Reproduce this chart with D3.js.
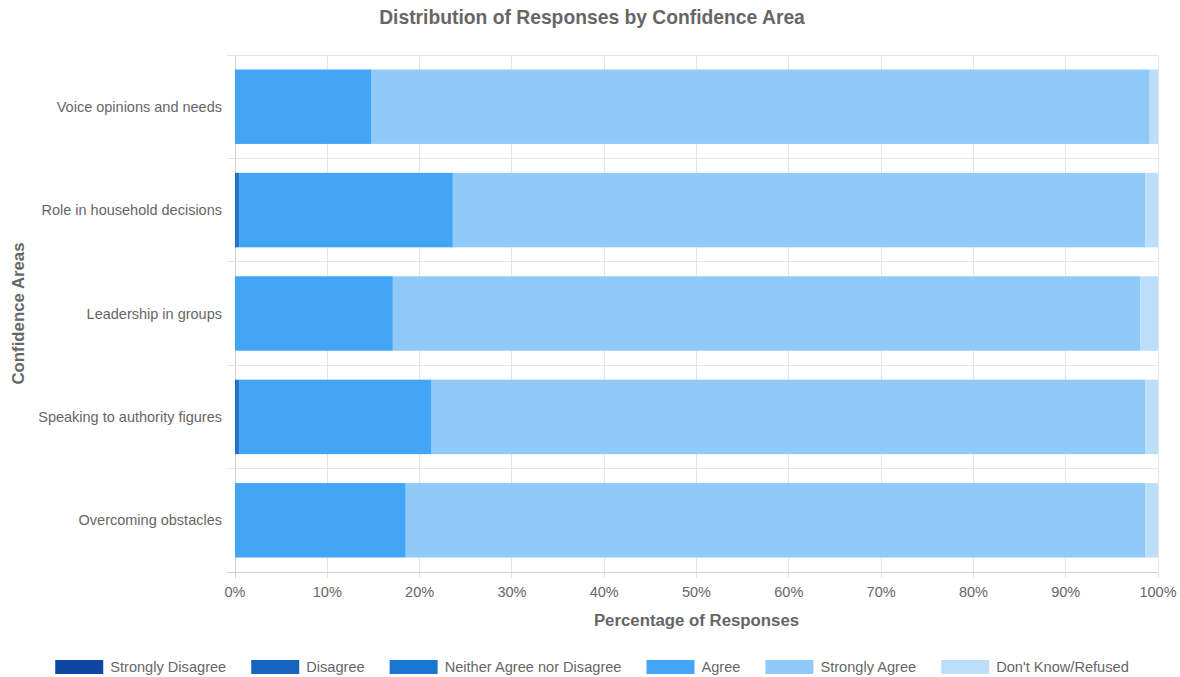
<!DOCTYPE html>
<html>
<head>
<meta charset="utf-8">
<script src="https://cdn.jsdelivr.net/npm/d3@7"></script>
<style>
  html, body { margin: 0; padding: 0; background: #fff; }
  svg { display: block; font-family: "Liberation Sans", Arial, Helvetica, sans-serif; }
</style>
</head>
<body>
<svg id="chart" width="1180" height="677"></svg>
<script>
// Confidence areas (top to bottom) and the response categories stacked left to right
const categories = [
  "Voice opinions and needs",
  "Role in household decisions",
  "Leadership in groups",
  "Speaking to authority figures",
  "Overcoming obstacles"
];
const responseTypes = [
  "Strongly Disagree", "Disagree", "Neither Agree nor Disagree",
  "Agree", "Strongly Agree", "Don't Know/Refused"
];
const responseColors = ["#0d47a1", "#1565c0", "#1976d2", "#42a5f5", "#90caf9", "#bbdefb"];

// Percentage of responses per category, one array per response type
const stronglyDisagree = [0, 0, 0, 0, 0];
const disagree         = [0, 0.2, 0, 0.2, 0];
const neither          = [0, 0.3, 0, 0.3, 0];
const agree            = [14.8, 23.1, 17.1, 20.8, 18.5];
const stronglyAgree    = [84.3, 75.0, 81.0, 77.3, 80.1];
const dontKnow         = [0.9, 1.4, 1.9, 1.4, 1.4];

const xTicks = [0, 10, 20, 30, 40, 50, 60, 70, 80, 90, 100];

const seriesValues = [stronglyDisagree, disagree, neither, agree, stronglyAgree, dontKnow];
const rows = categories.map((c, i) => {
  const r = { category: c };
  responseTypes.forEach((t, k) => { r[t] = seriesValues[k][i]; });
  return r;
});

const svg = d3.select("#chart");
const W = 1180, H = 677;
const margin = { left: 235, right: 22, top: 55, bottom: 105 };
const x0 = margin.left, x1 = W - margin.right, y0 = margin.top, y1 = H - margin.bottom;

const x = d3.scaleLinear().domain([0, 100]).range([x0, x1]);
const y = d3.scaleBand().domain(categories).range([y0, y1]).paddingInner(0.28).paddingOuter(0.14);
const step = y.step();

const textColor = "#666";
const gridColor = "#e5e5e5";

// vertical grid lines with tick marks below the axis
svg.append("g").selectAll("line").data(xTicks).join("line")
  .attr("x1", d => x(d)).attr("x2", d => x(d))
  .attr("y1", y0).attr("y2", y1 + 6)
  .attr("stroke", d => d === 0 ? "#d0d0d0" : gridColor).attr("stroke-width", 1)
  .attr("shape-rendering", "crispEdges");

// horizontal grid lines on category boundaries
const bounds = d3.range(categories.length + 1).map(i => y0 + i * step);
svg.append("g").selectAll("line").data(bounds).join("line")
  .attr("x1", x0 - 8).attr("x2", x1)
  .attr("y1", d => d).attr("y2", d => d)
  .attr("stroke", (d, i) => i === categories.length ? "#d0d0d0" : gridColor).attr("stroke-width", 1)
  .attr("shape-rendering", "crispEdges");

// stacked bars
const stacked = d3.stack().keys(responseTypes)(rows);
const color = d3.scaleOrdinal().domain(responseTypes).range(responseColors);

svg.append("g").selectAll("g").data(stacked).join("g")
  .attr("fill", d => color(d.key))
  .selectAll("rect").data(d => d).join("rect")
  .attr("x", d => x(d[0]))
  .attr("width", d => Math.max(0, x(d[1]) - x(d[0])))
  .attr("y", d => y(d.data.category))
  .attr("height", y.bandwidth());

// x tick labels
svg.append("g").selectAll("text").data(xTicks).join("text")
  .attr("x", d => x(d)).attr("y", y1 + 25)
  .attr("text-anchor", "middle")
  .attr("fill", textColor).attr("font-size", 14.5)
  .text(d => d + "%");

// y category labels
svg.append("g").selectAll("text").data(categories).join("text")
  .attr("x", x0 - 13).attr("y", d => y(d) + y.bandwidth() / 2)
  .attr("dy", "0.35em")
  .attr("text-anchor", "end")
  .attr("fill", textColor).attr("font-size", 14.5)
  .text(d => d);

// title
svg.append("text")
  .attr("x", 592).attr("y", 24)
  .attr("text-anchor", "middle")
  .attr("fill", textColor).attr("font-size", 19.3).attr("font-weight", "bold")
  .text("Distribution of Responses by Confidence Area");

// axis titles
svg.append("text")
  .attr("x", (x0 + x1) / 2).attr("y", 626)
  .attr("text-anchor", "middle")
  .attr("fill", textColor).attr("font-size", 16.8).attr("font-weight", "bold")
  .text("Percentage of Responses");

svg.append("text")
  .attr("transform", `translate(24, ${(y0 + y1) / 2}) rotate(-90)`)
  .attr("text-anchor", "middle")
  .attr("fill", textColor).attr("font-size", 16.8).attr("font-weight", "bold")
  .text("Confidence Areas");

// legend, centred below the chart
const legend = svg.append("g");
const boxW = 48, boxH = 14, gapText = 7, gapItem = 25;
const items = legend.selectAll("g").data(responseTypes).join("g");
items.append("rect")
  .attr("width", boxW).attr("height", boxH)
  .attr("fill", d => color(d));
items.append("text")
  .attr("x", boxW + gapText).attr("y", boxH / 2)
  .attr("dy", "0.35em")
  .attr("fill", textColor).attr("font-size", 14.6)
  .text(d => d);
const widths = [];
items.each(function () {
  widths.push(boxW + gapText + this.querySelector("text").getComputedTextLength());
});
const total = d3.sum(widths) + gapItem * (widths.length - 1);
let start = 592 - total / 2;
items.attr("transform", (d, i) => {
  const t = `translate(${start}, 660)`;
  start += widths[i] + gapItem;
  return t;
});
</script>
</body>
</html>
